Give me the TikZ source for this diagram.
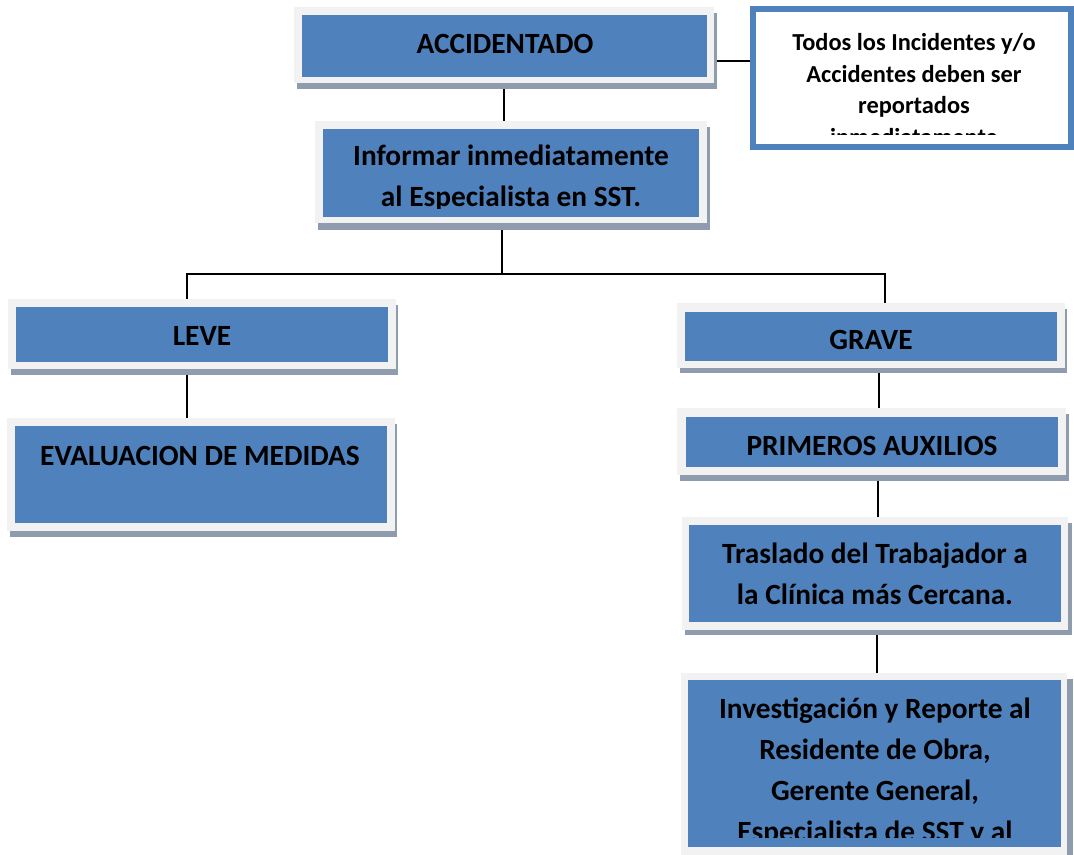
\documentclass[tikz,border=0pt]{standalone}
\usepackage{fontspec}
\setmainfont{Carlito}
\usetikzlibrary{fit,backgrounds,calc}
\definecolor{boxblue}{RGB}{79,129,189}
\definecolor{framegray}{RGB}{242,242,242}
\definecolor{shadowc}{RGB}{142,156,174}
\tikzset{
  framebox/.style={fill=framegray, inner sep=0pt, draw=none},
  shadowbox/.style={fill=shadowc},
  bluefill/.style={fill=boxblue},
  txt/.style={font=\fontsize{22}{30.75}\selectfont\bfseries, inner sep=0pt, align=center, anchor=base, text=black},
  sidetxt/.style={font=\fontsize{18.3}{23.6}\selectfont\bfseries, inner sep=0pt, align=center, anchor=base, text=black},
  conn/.style={draw=black, line width=1.6pt},
  sidebox/.style={draw=boxblue, line width=3.9pt, fill=white, inner sep=0pt}
}
\begin{document}
\begin{tikzpicture}[x=0.75pt,y=-0.75pt]
\useasboundingbox (0,0) rectangle (1074,854);

% ACCIDENTADO
\fill[shadowbox] (297,13) rectangle (717,89);
\node[framebox, fit={(294,7) (714,83)}] (acc) {};
\fill[bluefill] (302,15) rectangle (707,77);
\node[txt] (accT) at (505,53) {ACCIDENTADO};

% side note (anchor at last line's baseline)
\node[sidebox, fit={(753,9) (1071,147)}] (side) {};
\begin{scope}
\clip (756,12) rectangle (1068,134);
\node[sidetxt] (sideT) at (914,145) {Todos los Incidentes y/o\\Accidentes deben ser\\reportados\\inmediatamente};
\end{scope}

% Informar
\fill[shadowbox] (318,127) rectangle (710,230);
\node[framebox, fit={(315,121) (707,223)}] (inf) {};
\fill[bluefill] (323,129) rectangle (699,217);
\begin{scope}
\clip (323,129) rectangle (699,208);
\node[txt] (infT) at (511,206) {Informar inmediatamente\\al Especialista en SST.};
\end{scope}

% LEVE
\fill[shadowbox] (11,305) rectangle (398,375);
\node[framebox, fit={(8,299) (396,369)}] (leve) {};
\fill[bluefill] (16,307) rectangle (388,362);
\node[txt] (leveT) at (202,345) {LEVE};

% EVALUACION
\fill[shadowbox] (10,424) rectangle (397,537);
\node[framebox, fit={(7,418) (395,531)}] (eval) {};
\fill[bluefill] (15,426) rectangle (387,523);
\node[txt] (evalT) at (200,465) {EVALUACION DE MEDIDAS};

% GRAVE
\fill[shadowbox] (680,309) rectangle (1067,373);
\node[framebox, fit={(677,303) (1065,368)}] (grave) {};
\fill[bluefill] (685,312) rectangle (1057,361);
\node[txt] (graveT) at (871,349) {GRAVE};

% PRIMEROS AUXILIOS
\fill[shadowbox] (680,414) rectangle (1069,481);
\node[framebox, fit={(677,408) (1066,475)}] (prim) {};
\fill[bluefill] (686,417) rectangle (1058,467);
\node[txt] (primT) at (872,455) {PRIMEROS AUXILIOS};

% Traslado
\fill[shadowbox] (685,523) rectangle (1072,635);
\node[framebox, fit={(682,517) (1068,630)}] (tras) {};
\fill[bluefill] (689,525) rectangle (1061,622);
\node[txt] (trasT) at (875,604) {Traslado del Trabajador a\\la Clínica más Cercana.};

% Investigacion
\fill[shadowbox] (684,679) rectangle (1073,860);
\node[framebox, fit={(681,673) (1067,856)}] (inv) {};
\fill[bluefill] (688,680) rectangle (1061,847);
\begin{scope}
\clip (688,680) rectangle (1061,837);
\node[txt] (invT) at (875,841) {Investigación y Reporte al\\Residente de Obra,\\Gerente General,\\Especialista de SST y al};
\end{scope}

% connectors
\coordinate (bus) at (502,274);
\coordinate (busL) at (187,274);
\coordinate (busR) at (885,274);
\coordinate (sidelink) at (730,61);
\begin{scope}[on background layer]
\fill[white] (0,0) rectangle (1074,854);
\draw[conn] (acc.south) -- (acc.south |- inf.north);
\draw[conn] (acc.east |- sidelink) -- (side.west |- sidelink);
\draw[conn] (inf.south -| bus) -- (bus);
\draw[conn] (leve.north -| busL) -- (busL) -- (busR) -- (grave.north -| busR);
\draw[conn] (leve.south -| busL) -- (eval.north -| busL);
\draw[conn] (grave.south -| 879,0) -- (prim.north -| 879,0);
\draw[conn] (prim.south -| 878,0) -- (tras.north -| 878,0);
\draw[conn] (tras.south -| 877,0) -- (inv.north -| 877,0);
\end{scope}
\end{tikzpicture}
\end{document}
